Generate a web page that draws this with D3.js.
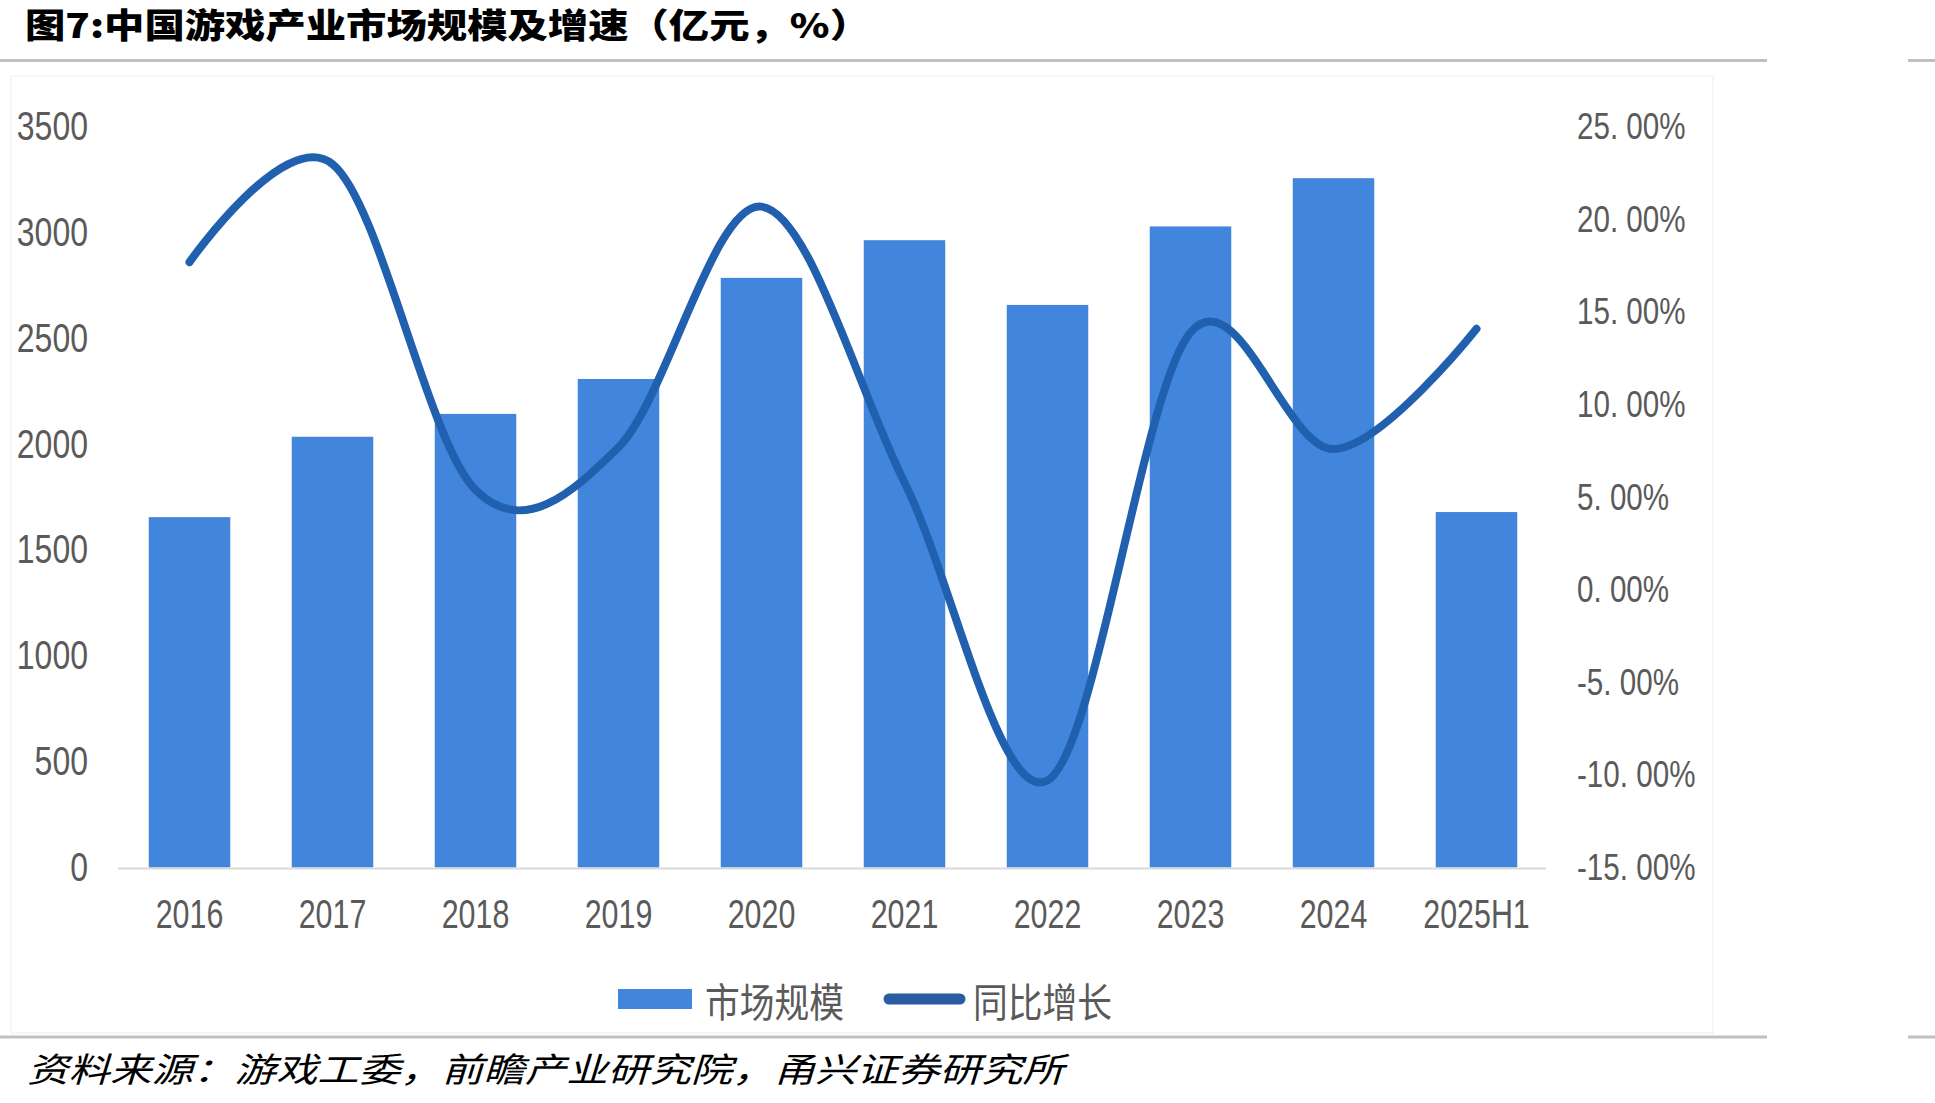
<!DOCTYPE html>
<html>
<head>
<meta charset="utf-8">
<script src="https://cdn.jsdelivr.net/npm/d3@7"></script>
<style>
  html, body { margin: 0; padding: 0; background: #fff; }
  svg { display: block; }
  text { font-family: "Liberation Sans", Arial, sans-serif; }
  .cjk { font-family: "Noto Sans CJK SC", sans-serif; }
</style>
</head>
<body>
<svg id="chart" width="1935" height="1103"></svg>
<script>
// data
const years = ['2016', '2017', '2018', '2019', '2020', '2021', '2022', '2023', '2024', '2025H1'];
const marketSize = [1656, 2036, 2144, 2309, 2787, 2965, 2659, 3030, 3258, 1680]; // 亿元
const growth = [17.7, 23.0, 5.4, 7.7, 20.7, 5.8, -10.3, 13.9, 7.6, 14.1];       // %
const leftTicks = [0, 500, 1000, 1500, 2000, 2500, 3000, 3500];
const rightTicks = [-15, -10, -5, 0, 5, 10, 15, 20, 25];
const seriesNames = ['市场规模', '同比增长'];

const titleText = '图7:中国游戏产业市场规模及增速（亿元，%）';
const sourceText = '资料来源：游戏工委，前瞻产业研究院，甬兴证券研究所';

const colors = {
  bar: '#4285dc',
  line: '#2160ae',
  label: '#5a5a5a',
  rule: '#c0c0c4',
};

const svg = d3.select('#chart');

// squeeze text horizontally, the source picture is drawn with narrow glyphs
function squeeze(sel, k) {
  sel.each(function () {
    const w = this.getComputedTextLength();
    this.setAttribute('textLength', w * k);
    this.setAttribute('lengthAdjust', 'spacingAndGlyphs');
  });
}

// header / footer rules
[[60.5], [1037]].forEach(([y]) => {
  svg.append('rect').attr('x', 0).attr('y', y - 1.5).attr('width', 1767).attr('height', 3).attr('fill', colors.rule);
  svg.append('rect').attr('x', 1908).attr('y', y - 1.5).attr('width', 27).attr('height', 3).attr('fill', colors.rule);
});

// faint frame of the pasted chart image
svg.append('rect')
  .attr('x', 11).attr('y', 76).attr('width', 1702).attr('height', 957)
  .attr('fill', 'none').attr('stroke', '#f4f4f4').attr('stroke-width', 1.5);

svg.append('text')
  .attr('class', 'cjk')
  .attr('x', 25).attr('y', 38)
  .attr('font-size', 34).attr('font-weight', 900).attr('fill', '#000')
  .attr('textLength', 845).attr('lengthAdjust', 'spacingAndGlyphs')
  .text(titleText);

svg.append('text')
  .attr('class', 'cjk')
  .attr('x', 27).attr('y', 1082)
  .attr('font-size', 34).attr('font-style', 'italic').attr('fill', '#000')
  .attr('textLength', 1037).attr('lengthAdjust', 'spacingAndGlyphs')
  .text(sourceText);

// scales
const x = d3.scaleBand().domain(years).range([118, 1548]).paddingInner(0.43).paddingOuter(0.215);
const yL = d3.scaleLinear().domain([0, 3500]).range([867.5, 127]);
const yR = d3.scaleLinear().domain([-15, 25]).range([867.5, 127]);

// bars
svg.append('g').selectAll('rect')
  .data(years)
  .join('rect')
  .attr('x', d => x(d))
  .attr('width', x.bandwidth())
  .attr('y', (d, i) => yL(marketSize[i]))
  .attr('height', (d, i) => yL(0) - yL(marketSize[i]))
  .attr('fill', colors.bar);

// x baseline
svg.append('line')
  .attr('x1', 118).attr('x2', 1546)
  .attr('y1', yL(0) + 1).attr('y2', yL(0) + 1)
  .attr('stroke', '#d9d9d9').attr('stroke-width', 2);

// growth line
const line = d3.line()
  .x((d, i) => x(years[i]) + x.bandwidth() / 2)
  .y(d => yR(d))
  .curve(d3.curveCardinal.tension(0));

svg.append('path')
  .datum(growth)
  .attr('d', line)
  .attr('fill', 'none')
  .attr('stroke', colors.line)
  .attr('stroke-width', 8)
  .attr('stroke-linecap', 'round')
  .attr('stroke-linejoin', 'round');

// axes
const gx = svg.append('g')
  .attr('transform', `translate(0, ${yL(0)})`)
  .call(d3.axisBottom(x).tickSize(0).tickPadding(0));
gx.select('.domain').remove();
gx.selectAll('text')
  .attr('y', 60).attr('dy', 0)
  .attr('font-size', 40).attr('fill', colors.label)
  .attr('font-family', '"Liberation Sans", Arial, sans-serif')
  .call(squeeze, 0.76);

const gl = svg.append('g')
  .attr('transform', 'translate(88, 0)')
  .call(d3.axisLeft(yL).tickValues(leftTicks).tickSize(0).tickPadding(0).tickFormat(d3.format('d')));
gl.select('.domain').remove();
gl.selectAll('text')
  .attr('font-size', 40).attr('fill', colors.label)
  .attr('font-family', '"Liberation Sans", Arial, sans-serif')
  .call(squeeze, 0.8);

const gr = svg.append('g')
  .attr('transform', 'translate(1577, 0)')
  .call(d3.axisRight(yR).tickValues(rightTicks).tickSize(0).tickPadding(0)
    .tickFormat(d => d.toFixed(2).replace('.', '. ') + '%'));
gr.select('.domain').remove();
gr.selectAll('text')
  .attr('font-size', 37).attr('fill', colors.label)
  .attr('font-family', '"Liberation Sans", Arial, sans-serif')
  .call(squeeze, 0.8);

// legend
const legend = svg.append('g');
legend.append('rect')
  .attr('x', 618).attr('y', 989).attr('width', 74).attr('height', 20)
  .attr('fill', colors.bar);
legend.append('line')
  .attr('x1', 889).attr('x2', 960).attr('y1', 999).attr('y2', 999)
  .attr('stroke', '#2a5d9f').attr('stroke-width', 11).attr('stroke-linecap', 'round');
legend.selectAll('text.lg')
  .data(seriesNames)
  .join('text')
  .attr('class', 'lg cjk')
  .attr('x', (d, i) => [705, 973][i])
  .attr('y', 1000)
  .attr('dominant-baseline', 'central')
  .attr('font-size', 40).attr('fill', colors.label)
  .attr('textLength', 139).attr('lengthAdjust', 'spacingAndGlyphs')
  .text(d => d);
</script>
</body>
</html>
